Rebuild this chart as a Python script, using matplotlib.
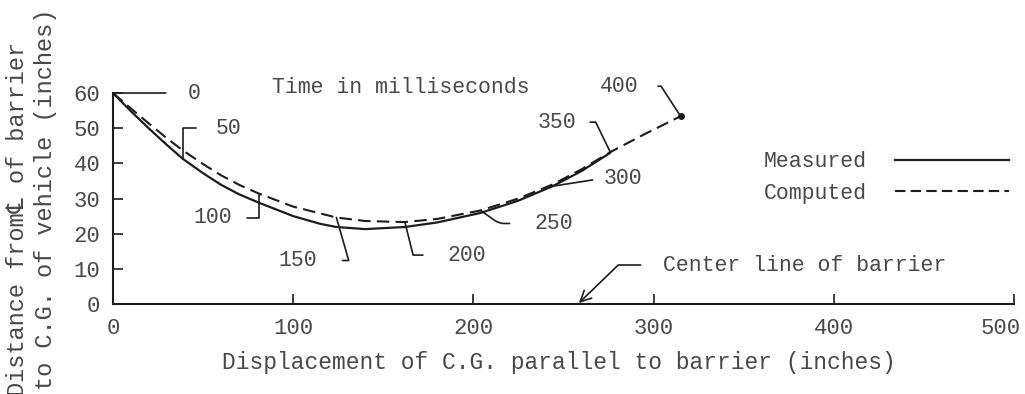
import matplotlib
matplotlib.use("Agg")
import matplotlib.pyplot as plt
from matplotlib.lines import Line2D
from matplotlib.transforms import ScaledTranslation

# trayectoria (pulgadas)
meas_x = [0, 10, 20, 30, 39, 50, 60, 70, 81, 100, 115, 124, 140, 162, 180, 204, 225, 244, 260, 276]
meas_y = [60, 54.8, 49.9, 45.2, 41.2, 37.2, 33.9, 31.2, 28.8, 25.0, 22.8, 21.9, 21.3, 21.9, 23.2, 25.9, 29.4, 33.5, 37.8, 43.0]

comp_x = [0, 10, 20, 30, 39, 50, 60, 70, 81, 100, 124, 140, 162, 180, 204, 225, 244, 260, 276, 295, 315]
comp_y = [60, 55.6, 51.3, 47.1, 43.6, 39.8, 36.6, 33.9, 31.4, 27.7, 24.6, 23.6, 23.3, 24.2, 26.6, 30.0, 34.0, 38.3, 43.2, 48.3, 53.4]

# puntos marcados con el tiempo (ms)
time_labels = ["0", "50", "100", "150", "200", "250", "300", "350", "400"]
time_x = [0, 39, 81, 124, 162, 204, 244, 276, 315]
time_y = [60, 41.2, 31.4, 24.6, 23.3, 26.6, 33.5, 43.2, 53.4]

barrier_x = 258

xticks = [0, 100, 200, 300, 400, 500]
yticks = [0, 10, 20, 30, 40, 50, 60]

FONT = ["Liberation Mono", "DejaVu Sans Mono", "DejaVu Sans"]
plt.rcParams["font.family"] = FONT
ink = "#1c1c1c"
txt = "#484848"
fs = 15.5

fig = plt.figure(figsize=(10.25, 3.94), dpi=100)
ax = fig.add_axes([0.1102, 0.2284, 0.879, 0.5355])

ax.plot(meas_x, meas_y, color=ink, lw=1.6, solid_capstyle="round")
ax.plot(comp_x, comp_y, color=ink, lw=1.5, dashes=(6, 3))
ax.plot(comp_x[-1:], comp_y[-1:], "o", color=ink, ms=4)

ax.set_xlim(0, 500)
ax.set_ylim(0, 60)
ax.set_xticks(xticks)
ax.set_yticks(yticks)
for s in ["top", "right"]:
    ax.spines[s].set_visible(False)
for s in ["left", "bottom"]:
    ax.spines[s].set_linewidth(1.5)
    ax.spines[s].set_color(ink)
ax.tick_params(direction="in", length=7, width=1.2, color=ink, labelcolor=txt, labelsize=16)
ax.tick_params(axis="y", pad=9)
ax.tick_params(axis="x", pad=10)
# el 500 queda un poco a la izquierda de su marca
last = ax.get_xticklabels()[-1]
last.set_transform(last.get_transform() + ScaledTranslation(-0.13, 0, fig.dpi_scale_trans))

ax.set_xlabel("Displacement of C.G. parallel to barrier (inches)", fontsize=16.5, color=txt)
ax.xaxis.set_label_coords(0.495, -0.225)

fig.text(0.0166, -0.005, "Distance from\u2104 of barrier", rotation=90, ha="center", va="bottom",
         fontsize=17, color=txt)
fig.text(0.044, 0.01, "to C.G. of vehicle (inches)", rotation=90, ha="center", va="bottom",
         fontsize=17, color=txt)

ax.text(0.319, 1.028, "Time in milliseconds", transform=ax.transAxes, ha="center", va="center",
        fontsize=fs, color=txt, clip_on=False)

# lineas guia de cada tiempo: (dx, dy en pixeles, alineacion, recorte, conexion)
guides = [
    (75, 0, "left", 14, "arc3"),
    (32, 31, "left", 12, "angle,angleA=0,angleB=90,rad=0"),
    (-27, -24, "right", 9, "angle,angleA=0,angleB=90,rad=0"),
    (-19, -43, "right", 16, "angle,angleA=0,angleB=106,rad=0"),
    (43, -33, "left", 16, "angle,angleA=0,angleB=104,rad=0"),
    (54, -13, "left", 16, "angle,angleA=0,angleB=-35,rad=5"),
    (51, 8, "left", 6, "arc3"),
    (-34, 30, "right", 8, "angle,angleA=0,angleB=116,rad=0"),
    (-42, 30, "right", 12, "angle,angleA=0,angleB=123,rad=0"),
]
for lab, x, y, (dx, dy, ha, shr, conn) in zip(time_labels, time_x, time_y, guides):
    ax.annotate(lab, xy=(x, y), xytext=(dx, dy), textcoords="offset pixels",
                ha=ha, va="center", fontsize=fs, color=txt, annotation_clip=False,
                arrowprops=dict(arrowstyle="-", color=ink, lw=1.2, shrinkA=shr, shrinkB=0,
                                relpos=(0 if ha == "left" else 1, 0.5), connectionstyle=conn))

ax.annotate("Center line of barrier", xy=(barrier_x, 0), xytext=(85, 39), textcoords="offset pixels",
            ha="left", va="center", fontsize=fs, color=txt, annotation_clip=False,
            arrowprops=dict(arrowstyle="->,head_length=0.5,head_width=0.25", color=ink, lw=1.2,
                            shrinkA=14, shrinkB=1, relpos=(0, 0.5),
                            connectionstyle="angle,angleA=0,angleB=44,rad=0"))

handles = [Line2D([], [], color=ink, lw=1.6), Line2D([], [], color=ink, lw=1.5, dashes=(5, 2.5))]
leg = ax.legend(handles, ["Measured", "Computed"], loc="center right", bbox_to_anchor=(1.016, 0.6),
                frameon=False, markerfirst=False, handlelength=5.3, handletextpad=1.3,
                labelspacing=0.5, fontsize=fs, labelcolor=txt)

fig.savefig("out.png", dpi=100)
